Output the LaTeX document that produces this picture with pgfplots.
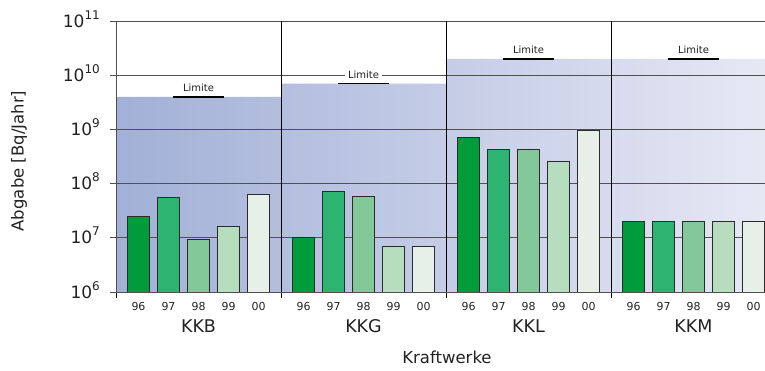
\documentclass[border=0pt]{standalone}
\usepackage{pgfplots}
\pgfplotsset{compat=1.18}
\usepackage{fontspec}
\setmainfont{DejaVu Sans}

\definecolor{y96}{HTML}{009B3A}
\definecolor{y97}{HTML}{2CB470}
\definecolor{y98}{HTML}{83C898}
\definecolor{y99}{HTML}{B6DDBE}
\definecolor{y00}{HTML}{E6F0E8}
\definecolor{limL}{HTML}{A2B0D7}
\definecolor{limR}{HTML}{E6E8F4}
\definecolor{txt}{HTML}{222222}
\definecolor{gridc}{HTML}{505050}
\definecolor{bardraw}{HTML}{2A2A2A}

% power of ten written in the text font
\newcommand{\dec}[1]{10\raisebox{8bp}{\fontsize{12bp}{12bp}\selectfont #1}}
\newcommand{\limitlabel}[2]{%
  \node[anchor=base, fill=white, inner xsep=3bp, inner ysep=1bp,
        font=\fontsize{10bp}{12bp}\selectfont, text=txt]
    at (axis cs:#1,#2) [yshift=5bp] {Limite};}
\newcommand{\plantlabel}[2]{%
  \node[anchor=base, font=\fontsize{17.5bp}{17.5bp}\selectfont, text=txt]
    at (axis cs:#1,1e6) [yshift=-40.3bp] {#2};}

\begin{document}
\begin{tikzpicture}
\begin{axis}[
  at={(0,0)}, anchor=south west,
  scale only axis, width=649bp, height=271bp,
  set layers, clip mode=individual,
  ymode=log, ymin=1e6, ymax=1e11,
  xmin=0, xmax=21.633,
  axis lines=left,
  axis line style={-, draw=gridc, line width=1bp},
  ytick={1e6,1e7,1e8,1e9,1e10,1e11},
  yticklabels={\dec{6},\dec{7},\dec{8},\dec{9},\dec{10},\dec{11}},
  yminorticks=false,
  ymajorgrids, major grid style={gridc, line width=0.9bp},
  ytick align=outside, ytick pos=left, major tick length=6bp,
  ytick style={draw=gridc, line width=0.9bp},
  yticklabel style={inner sep=0pt, anchor=base east, xshift=-10bp, yshift=-6.2bp,
    font=\fontsize{17bp}{17bp}\selectfont, text=txt},
  xtick={0.75,1.75,2.75,3.75,4.75, 6.25,7.25,8.25,9.25,10.25,
         11.75,12.75,13.75,14.75,15.75, 17.25,18.25,19.25,20.25,21.25},
  xticklabels={96,97,98,99,00,96,97,98,99,00,96,97,98,99,00,96,97,98,99,00},
  xtick style={draw=none},
  xticklabel style={inner sep=0pt, anchor=base, yshift=-15.3bp,
    font=\fontsize{11bp}{11bp}\selectfont, text=txt},
  extra x ticks={0,5.5,11,16.5},
  extra x tick labels={},
  extra x tick style={grid=major,
    major grid style={black, line width=0.9bp},
    xtick style={draw=black, line width=0.9bp},
    xtick align=outside},
  xlabel={Kraftwerke},
  xlabel style={at={(rel axis cs:0.51,-0.263)}, anchor=base,
    font=\fontsize{16.5bp}{16.5bp}\selectfont, text=txt},
  ylabel={Abgabe [Bq/Jahr]},
  ylabel style={at={(rel axis cs:-0.1495,0.4834)}, anchor=center,
    font=\fontsize{16.5bp}{16.5bp}\selectfont, text=txt},
]

% permitted release per plant (stepped outline, shaded)
\addplot[on layer=axis background, draw=none,
         left color=limL, right color=limR]
  coordinates {(0,1e6) (0,4e9) (5.5,4e9) (5.5,7e9) (11,7e9) (11,2e10)
               (21.633,2e10) (21.633,1e6)} -- cycle;

% releases 1996--2000
\addplot[ybar, bar width=22bp, bar shift=0pt, fill=y96, draw=bardraw, line width=1bp]
  coordinates {(0.75,2.5e7) (6.25,1e7) (11.75,7.2e8) (17.25,2e7)};
\addplot[ybar, bar width=22bp, bar shift=0pt, fill=y97, draw=bardraw, line width=1bp]
  coordinates {(1.75,5.6e7) (7.25,7.3e7) (12.75,4.3e8) (18.25,2e7)};
\addplot[ybar, bar width=22bp, bar shift=0pt, fill=y98, draw=bardraw, line width=1bp]
  coordinates {(2.75,9.5e6) (8.25,5.8e7) (13.75,4.3e8) (19.25,2e7)};
\addplot[ybar, bar width=22bp, bar shift=0pt, fill=y99, draw=bardraw, line width=1bp]
  coordinates {(3.75,1.6e7) (9.25,7e6) (14.75,2.6e8) (20.25,2e7)};
\addplot[ybar, bar width=22bp, bar shift=0pt, fill=y00, draw=bardraw, line width=1bp]
  coordinates {(4.75,6.3e7) (10.25,7e6) (15.75,9.7e8) (21.25,2e7)};

% limit markers
\addplot[black, line width=1.5bp] coordinates {(1.9,4e9) (3.6,4e9)};
\addplot[black, line width=1.5bp] coordinates {(7.4,7e9) (9.1,7e9)};
\addplot[black, line width=1.5bp] coordinates {(12.9,2e10) (14.6,2e10)};
\addplot[black, line width=1.5bp] coordinates {(18.4,2e10) (20.1,2e10)};
\limitlabel{2.75}{4e9}
\limitlabel{8.25}{7e9}
\limitlabel{13.75}{2e10}
\limitlabel{19.25}{2e10}

% plant names
\plantlabel{2.75}{KKB}
\plantlabel{8.25}{KKG}
\plantlabel{13.75}{KKL}
\plantlabel{19.25}{KKM}
\end{axis}
\pgfresetboundingbox
\path[use as bounding box] (-116bp,-79bp) rectangle (649bp,292bp);
\end{tikzpicture}
\end{document}
